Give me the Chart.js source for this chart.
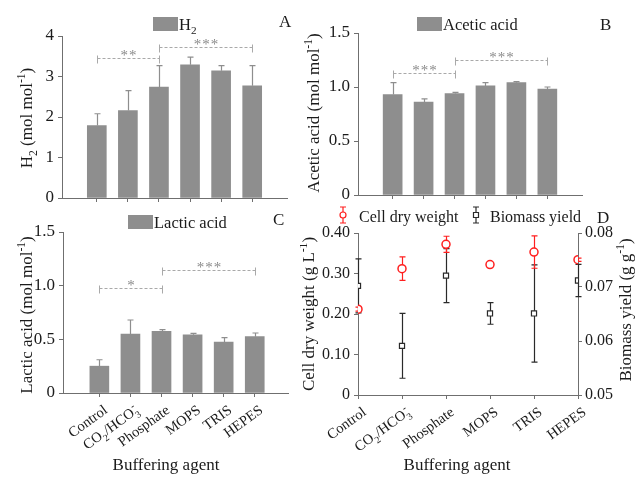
<!DOCTYPE html>
<html>
<head>
<meta charset="utf-8">
<title>Buffering agents</title>
<script src="https://cdn.jsdelivr.net/npm/chart.js@4.4.1/dist/chart.umd.min.js"></script>
<style>
  body { margin: 0; background: #fff; }
  #wrap { position: relative; width: 635px; height: 479px; overflow: hidden; }
  canvas { position: absolute; }
</style>
</head>
<body>
<div id="wrap">
  <canvas id="chartA" width="300" height="215" style="left:0;top:0"></canvas>
  <canvas id="chartB" width="335" height="215" style="left:300px;top:0"></canvas>
  <canvas id="chartC" width="300" height="279" style="left:0;top:200px"></canvas>
  <canvas id="chartD" width="335" height="279" style="left:300px;top:200px"></canvas>
</div>
<script>
// values
var categories = ['Control', 'CO2/HCO3-', 'Phosphate', 'MOPS', 'TRIS', 'HEPES'];

var h2Yield = [1.79, 2.16, 2.74, 3.29, 3.14, 2.77];
var h2Err = [0.29, 0.49, 0.53, 0.19, 0.13, 0.50];
var aceticYield = [0.93, 0.86, 0.94, 1.01, 1.04, 0.98];
var aceticErr = [0.11, 0.03, 0.01, 0.03, 0.01, 0.02];
var lacticYield = [0.25, 0.55, 0.575, 0.543, 0.474, 0.525];
var lacticErr = [0.06, 0.13, 0.015, 0.013, 0.041, 0.034];

var cellDryWeight = [0.212, 0.312, 0.372, 0.322, 0.353, 0.334];
var cellDryWeightErr = [0.005, 0.029, 0.02, 0.004, 0.04, 0.004];
var biomassYield = [0.0702, 0.0591, 0.0721, 0.0651, 0.0651, 0.0712];
var biomassYieldErr = [0.005, 0.006, 0.005, 0.002, 0.009, 0.003];

var h2Ticks = [0, 1, 2, 3, 4];
var acidTicks = [0, 0.5, 1, 1.5];
var cdwTicks = [0, 0.1, 0.2, 0.3, 0.4];
var yieldTicks = [0.05, 0.06, 0.07, 0.08];

// significance brackets: [from, to, height, stars]
var h2Sig = [[0, 2, 3.45, '**'], [2, 5, 3.74, '***']];
var aceticSig = [[0, 2, 1.13, '***'], [2, 5, 1.25, '***']];
var lacticSig = [[0, 2, 0.98, '*'], [2, 5, 1.145, '***']];

var SERIF = "'Liberation Serif', 'Times New Roman', serif";
var INK = '#1b1b1b';
var AXIS = '#6f6f6f';
var BAR = '#8e8e8e';
var DASH = '#a9a9a9';
var RED = '#ff1f1f';

Chart.defaults.font.family = SERIF;
Chart.defaults.color = INK;

// "CO2/HCO3-" -> pieces with subscripts / stacked superscript
function chem(s) {
  var parts = [];
  for (var i = 0; i < s.length; i++) {
    var ch = s[i], last = parts[parts.length - 1];
    if (/\d/.test(ch)) parts.push({t: ch, k: 'sub'});
    else if (ch === '-' && last && last.k === 'sub') last.u = '-';
    else if (last && !last.k) last.t += ch;
    else parts.push({t: ch});
  }
  return parts;
}

function rich(ctx, parts, x, y, size, align) {
  var small = size * 0.68, w = 0;
  var segs = parts.map(function (p) {
    if (typeof p === 'string') p = {t: p};
    var fs = p.k ? small : size;
    ctx.font = fs + 'px ' + SERIF;
    var pw = ctx.measureText(p.t).width;
    if (p.u) pw = Math.max(pw, ctx.measureText(p.u).width);
    var s = {p: p, fs: fs, x: w};
    w += pw;
    return s;
  });
  var x0 = align === 'center' ? x - w / 2 : align === 'right' ? x - w : x;
  ctx.textAlign = 'left';
  ctx.textBaseline = 'alphabetic';
  segs.forEach(function (s) {
    ctx.font = s.fs + 'px ' + SERIF;
    var dy = s.p.k === 'sub' ? size * 0.3 : s.p.k === 'sup' ? -size * 0.4 : 0;
    ctx.fillText(s.p.t, x0 + s.x, y + dy);
    if (s.p.u) ctx.fillText(s.p.u, x0 + s.x + 1, y - size * 0.4);
  });
}

function vtext(ctx, parts, x, y, size) {
  ctx.save();
  ctx.translate(x, y);
  ctx.rotate(-Math.PI / 2);
  ctx.fillStyle = INK;
  rich(ctx, parts, 0, 0, size, 'center');
  ctx.restore();
}

function letter(ctx, t, x, y) {
  ctx.fillStyle = INK;
  ctx.font = '17px ' + SERIF;
  ctx.textAlign = 'left';
  ctx.textBaseline = 'alphabetic';
  ctx.fillText(t, x, y);
}

function boxKey(ctx, x, y, parts) {
  ctx.fillStyle = BAR;
  ctx.fillRect(x, y, 25, 14);
  ctx.fillStyle = INK;
  rich(ctx, parts, x + 26, y + 12.5, 16.5, 'left');
}

function errKey(ctx, x, y, color, shape) {
  ctx.strokeStyle = color;
  ctx.lineWidth = 1.2;
  ctx.beginPath();
  ctx.moveTo(x, y - 8); ctx.lineTo(x, y + 8);
  ctx.moveTo(x - 3, y - 8); ctx.lineTo(x + 3, y - 8);
  ctx.moveTo(x - 3, y + 8); ctx.lineTo(x + 3, y + 8);
  ctx.stroke();
  ctx.fillStyle = '#fff';
  ctx.beginPath();
  if (shape === 'circle') ctx.arc(x, y, 3, 0, 2 * Math.PI);
  else ctx.rect(x - 2.5, y - 2.5, 5, 5);
  ctx.fill();
  ctx.stroke();
}

function drawBrackets(ctx, chart, list) {
  var xs = chart.scales.x, ys = chart.scales.y;
  list.forEach(function (b) {
    var x1 = Math.round(xs.getPixelForValue(b[0])) + 0.5;
    var x2 = Math.round(xs.getPixelForValue(b[1])) + 0.5;
    var y = Math.round(ys.getPixelForValue(b[2])) + 0.5;
    ctx.strokeStyle = DASH;
    ctx.lineWidth = 1;
    ctx.setLineDash([3, 2]);
    ctx.beginPath(); ctx.moveTo(x1, y); ctx.lineTo(x2, y); ctx.stroke();
    ctx.setLineDash([]);
    ctx.beginPath();
    ctx.moveTo(x1, y - 3); ctx.lineTo(x1, y + 5);
    ctx.moveTo(x2, y - 3); ctx.lineTo(x2, y + 5);
    ctx.stroke();
    ctx.fillStyle = '#8a8a8a';
    ctx.font = '15px ' + SERIF;
    ctx.textAlign = 'center';
    ctx.textBaseline = 'alphabetic';
    var n = b[3].length, cx = (x1 + x2) / 2;
    for (var k = 0; k < n; k++) ctx.fillText('*', cx + (k - (n - 1) / 2) * 8.5, y + 1);
  });
}

function drawCatLabels(ctx, chart) {
  var xs = chart.scales.x, y0 = chart.chartArea.bottom;
  ctx.fillStyle = INK;
  categories.forEach(function (c, i) {
    var x = xs.getPixelForValue(i);
    ctx.save();
    ctx.translate(x + 9, y0 + 19);
    ctx.rotate(-36 * Math.PI / 180);
    rich(ctx, chem(c), 0, 0, 14.5, 'right');
    ctx.restore();
  });
}

function xTitle(ctx, x, y) {
  ctx.fillStyle = INK;
  rich(ctx, ['Buffering agent'], x, y, 17, 'center');
}

var errorBars = {
  id: 'errorBars',
  beforeDatasetDraw: function (chart, args) {
    var ds = chart.data.datasets[args.index];
    if (!ds.errors) return;
    var ys = chart.scales[args.meta.yAxisID], ctx = chart.ctx;
    ctx.save();
    ctx.strokeStyle = ds.errColor;
    ctx.lineWidth = 1.2;
    args.meta.data.forEach(function (el, i) {
      var v = ds.data[i].y, e = ds.errors[i];
      var x = Math.round(el.x) + 0.5;
      var top = ys.getPixelForValue(v + e);
      var bot = ys.getPixelForValue(ds.twoSided ? v - e : v);
      ctx.beginPath();
      ctx.moveTo(x, top); ctx.lineTo(x, bot);
      ctx.moveTo(x - 3, top); ctx.lineTo(x + 3, top);
      if (ds.twoSided) { ctx.moveTo(x - 3, bot); ctx.lineTo(x + 3, bot); }
      ctx.stroke();
    });
    ctx.restore();
  }
};
Chart.register(errorBars);

function decor(draw) {
  return {
    id: 'decor',
    afterDraw: function (chart) {
      var ctx = chart.ctx;
      ctx.save();
      draw(ctx, chart);
      ctx.restore();
    }
  };
}

function axisGrid() {
  return {display: true, drawOnChartArea: false, drawTicks: true, tickLength: 4, color: AXIS, offset: false};
}

function setTicks(values) {
  return function (s) { s.ticks = values.map(function (v) { return {value: v}; }); };
}

function barPanel(id, means, errs, yTicks, xMin, xMax, box, draw) {
  return new Chart(document.getElementById(id), {
    type: 'bar',
    data: {
      datasets: [{
        data: means.map(function (v, i) { return {x: i, y: v}; }),
        backgroundColor: BAR,
        borderWidth: 0,
        barThickness: 19,
        errors: errs,
        errColor: BAR
      }]
    },
    options: {
      responsive: false,
      animation: false,
      layout: {padding: {top: box.top, right: box.right, left: 0, bottom: 0}},
      plugins: {legend: {display: false}, tooltip: {enabled: false}},
      scales: {
        x: {
          type: 'linear', min: xMin, max: xMax, offset: false,
          afterBuildTicks: setTicks(means.map(function (v, i) { return i; })),
          ticks: {display: false},
          grid: axisGrid(),
          border: {color: AXIS},
          afterFit: function (s) { s.height = box.bottom; }
        },
        y: {
          min: yTicks[0], max: yTicks[yTicks.length - 1],
          afterBuildTicks: setTicks(yTicks),
          ticks: {font: {size: 17}, padding: 4, color: INK},
          grid: axisGrid(),
          border: {color: AXIS},
          afterFit: function (s) { s.width = box.left; }
        }
      }
    },
    plugins: [decor(draw)]
  });
}

var molUnit = [' (mol mol', {t: '-1', k: 'sup'}, ')'];

barPanel('chartA', h2Yield, h2Err, h2Ticks, -1.12, 6.12, {left: 62, top: 36, right: 13, bottom: 17},
  function (ctx, chart) {
    boxKey(ctx, 153, 17, chem('H2'));
    letter(ctx, 'A', 279, 27);
    vtext(ctx, chem('H2').concat(molUnit), 32, 118, 17);
    drawBrackets(ctx, chart, h2Sig);
  });

barPanel('chartB', aceticYield, aceticErr, acidTicks, -1.12, 6.12, {left: 58, top: 33, right: 53, bottom: 20},
  function (ctx, chart) {
    boxKey(ctx, 117, 17, ['Acetic acid']);
    letter(ctx, 'B', 300, 30);
    vtext(ctx, ['Acetic acid'].concat(molUnit), 19, 113, 17);
    drawBrackets(ctx, chart, aceticSig);
  });

barPanel('chartC', lacticYield, lacticErr, acidTicks, -1.17, 6.07, {left: 63, top: 32, right: 12, bottom: 86},
  function (ctx, chart) {
    boxKey(ctx, 128, 15, ['Lactic acid']);
    letter(ctx, 'C', 273, 25);
    vtext(ctx, ['Lactic acid'].concat(molUnit), 32, 115, 17);
    drawBrackets(ctx, chart, lacticSig);
    drawCatLabels(ctx, chart);
    xTitle(ctx, 166, 270);
  });

new Chart(document.getElementById('chartD'), {
  type: 'line',
  data: {
    datasets: [{
      label: 'Cell dry weight',
      data: cellDryWeight.map(function (v, i) { return {x: i, y: v}; }),
      yAxisID: 'y',
      showLine: false,
      pointStyle: 'circle',
      pointRadius: 4,
      pointBorderWidth: 1.5,
      borderColor: RED,
      pointBackgroundColor: '#fff',
      errors: cellDryWeightErr,
      errColor: RED,
      twoSided: true
    }, {
      label: 'Biomass yield',
      data: biomassYield.map(function (v, i) { return {x: i, y: v}; }),
      yAxisID: 'y2',
      showLine: false,
      pointStyle: 'rect',
      pointRadius: 3.6,
      pointBorderWidth: 1.2,
      borderColor: '#2a2a2a',
      pointBackgroundColor: '#fff',
      errors: biomassYieldErr,
      errColor: '#2a2a2a',
      twoSided: true
    }]
  },
  options: {
    responsive: false,
    animation: false,
    layout: {padding: {top: 33, right: 0, left: 0, bottom: 0}},
    plugins: {legend: {display: false}, tooltip: {enabled: false}},
    scales: {
      x: {
        type: 'linear', min: 0, max: 5,
        afterBuildTicks: setTicks(categories.map(function (c, i) { return i; })),
        ticks: {display: false},
        grid: axisGrid(),
        border: {color: AXIS},
        afterFit: function (s) { s.height = 84; }
      },
      y: {
        position: 'left', min: 0, max: 0.4,
        afterBuildTicks: setTicks(cdwTicks),
        ticks: {font: {size: 16}, padding: 4, color: INK,
          callback: function (v) { return v === 0 ? '0' : v.toFixed(2); }},
        grid: axisGrid(),
        border: {color: AXIS},
        afterFit: function (s) { s.width = 58; }
      },
      y2: {
        position: 'right', min: 0.05, max: 0.08,
        afterBuildTicks: setTicks(yieldTicks),
        ticks: {font: {size: 16}, padding: 3, color: INK,
          callback: function (v) { return v.toFixed(2); }},
        grid: axisGrid(),
        border: {color: AXIS},
        afterFit: function (s) { s.width = 57; }
      }
    }
  },
  plugins: [decor(function (ctx, chart) {
    errKey(ctx, 43, 15, RED, 'circle');
    ctx.fillStyle = INK;
    rich(ctx, ['Cell dry weight'], 59, 22, 16, 'left');
    errKey(ctx, 176, 15, '#2a2a2a', 'rect');
    ctx.fillStyle = INK;
    rich(ctx, ['Biomass yield'], 190, 22, 16, 'left');
    letter(ctx, 'D', 297, 23);
    vtext(ctx, ['Cell dry weight (g L', {t: '-1', k: 'sup'}, ')'], 14, 114, 17);
    vtext(ctx, ['Biomass yield (g g', {t: '-1', k: 'sup'}, ')'], 331, 110, 17);
    drawCatLabels(ctx, chart);
    xTitle(ctx, 157, 270);
  })]
});
</script>
</body>
</html>
